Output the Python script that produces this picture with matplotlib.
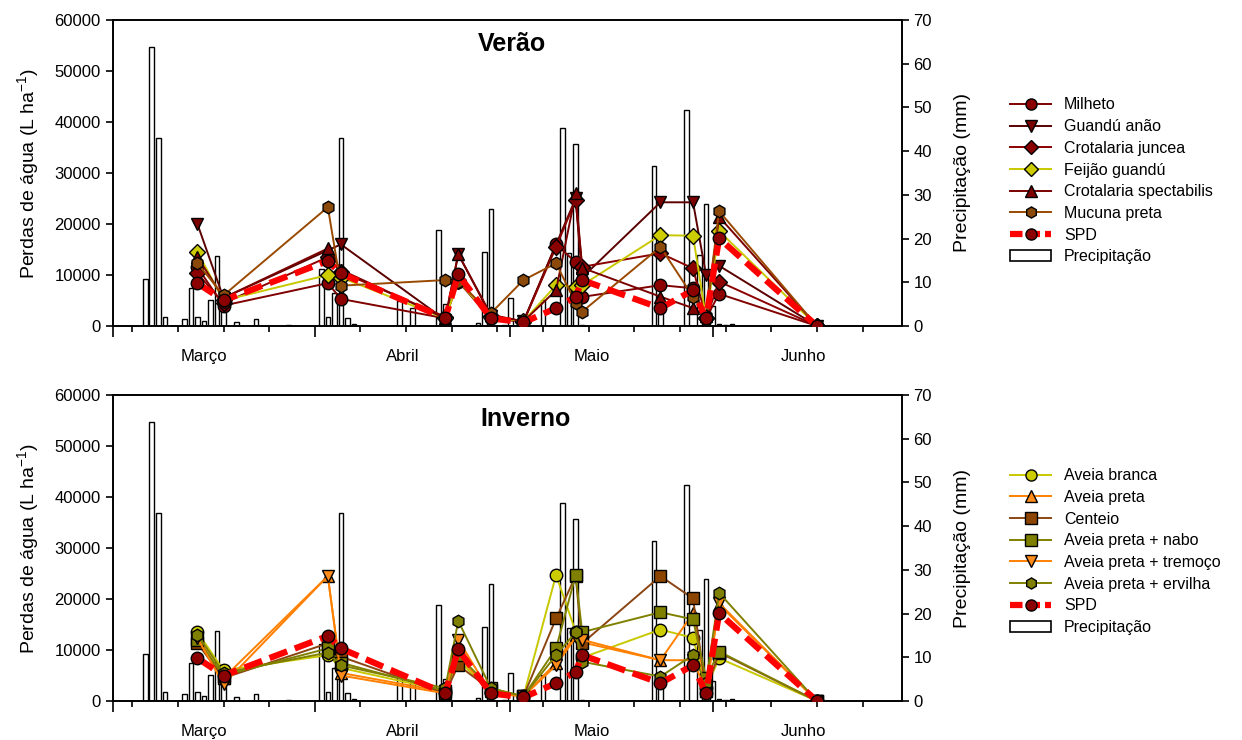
import numpy as np
import matplotlib.pyplot as plt
from matplotlib.lines import Line2D
from matplotlib.patches import Patch

plt.rcParams['font.family'] = ['Liberation Sans', 'DejaVu Sans']
plt.rcParams['mathtext.fontset'] = 'custom'
plt.rcParams['mathtext.rm'] = 'Liberation Sans'
plt.rcParams['axes.linewidth'] = 1.2

# days counted from 1 March
dates = [13, 17, 33, 35, 51, 53, 58, 63, 68, 71, 72, 84, 89, 91, 93, 108]
nan = np.nan

# Verao
milheto = [11500, 4000, 8400, 5300, 1500, 8700, 1500, 800, 16000, 12500, 5700, 8000, 7400, 1500, 6300, 0]
guandu_anao = [20000, 5500, nan, 16000, 1200, 14100, 2000, 900, nan, 25000, 9500, 24250, 24250, 10000, 11800, 0]
crot_juncea = [10300, 4500, 13500, 10600, 1800, 9000, 2000, 800, 15500, 24700, 11600, 14250, 11300, 1500, 8700, 0]
feijao_guandu = [14500, 5000, 10000, 9500, 1500, 8800, 1800, 900, 8000, 7700, 8000, 17800, 17700, 1500, 18600, 0]
crot_spect = [13500, 5500, 15200, 11000, 1500, 14100, 2200, 900, 7000, 26000, 11400, 5750, 3500, 2000, 21400, 0]
mucuna = [12300, 6000, 23300, 7900, 9000, 8700, 2500, 9000, 12300, 4500, 2800, 15500, 5750, 2000, 22500, 0]
spd = [8400, 5000, 12750, 10300, 1500, 10100, 1500, 700, 3500, 5750, 9000, 3500, 7000, 1500, 17200, 0]

# Inverno
aveia_branca = [13500, 6000, 9000, 6500, 2000, 8000, 1800, 900, 24700, 13600, 8500, 14000, 12400, 2500, 8400, 0]
aveia_preta = [12600, 4500, 24500, 5500, 1800, 8700, 2000, 900, 7500, 13000, 11500, 8000, 17200, 2000, 18900, 0]
centeio = [11300, 4500, 11300, 8700, 1500, 7000, 2200, 900, 16200, 24500, 11300, 24500, 20100, 2000, 9500, 0]
nabo = [12000, 5000, 10300, 7500, 2000, 9000, 2500, 900, 10300, 24700, 13500, 17400, 16000, 4500, 9700, 0]
tremoco = [12300, 3300, 24500, 5000, 1500, 12000, 1500, 900, 7000, 12500, 12000, 8000, 8000, 2000, 19200, 0]
ervilha = [13000, 5500, 9500, 7000, 2500, 15700, 2500, 900, 9000, 13500, 7700, 4800, 9000, 3500, 21200, 0]

# precipitation (mm)
precip_days = [5, 6, 7, 8, 11, 12, 13, 14, 15, 16, 17, 19, 22, 27, 32, 33, 34, 35, 36, 37, 44, 46,
               47, 50, 51, 56, 57, 58, 60, 61, 66, 69, 70, 71, 72, 83, 84, 88, 90, 91, 92, 93, 94, 95]
precip_mm = [10.8, 63.9, 42.9, 2.1, 1.6, 8.8, 2.1, 1.2, 6, 16, 5, 1.0, 1.6, 0.2, 13, 2.1, 7.5, 43.1,
             1.8, 0.4, 5.6, 4.1, 0.1, 22, 5, 0.7, 17, 26.7, 0.3, 6.4, 6, 45.2, 16.7, 41.6, 0.3, 36.5,
             5, 49.4, 16.2, 27.8, 4.5, 0.5, 0.3, 0.5]

months = ['Março', 'Abril', 'Maio', 'Junho']
month_pos = [14, 44.5, 73.5, 106]
month_start = [0, 31, 61, 92]

summer = [
    ('Milheto', milheto, '#800000', 'o', '#8B0000'),
    ('Guandú anão', guandu_anao, '#5A0000', 'v', '#7A0000'),
    ('Crotalaria juncea', crot_juncea, '#8B0000', 'D', '#8B0000'),
    ('Feijão guandú', feijao_guandu, '#C8C800', 'D', '#CCCC00'),
    ('Crotalaria spectabilis', crot_spect, '#7A0000', '^', '#800000'),
    ('Mucuna preta', mucuna, '#9A4A00', 'h', '#8B4A0A'),
]
winter = [
    ('Aveia branca', aveia_branca, '#C8C800', 'o', '#CCCC00'),
    ('Aveia preta', aveia_preta, '#FF8000', '^', '#FF8C1A'),
    ('Centeio', centeio, '#8B4513', 's', '#8B4500'),
    ('Aveia preta + nabo', nabo, '#808000', 's', '#808000'),
    ('Aveia preta + tremoço', tremoco, '#FF8000', 'v', '#FF8C1A'),
    ('Aveia preta + ervilha', ervilha, '#808000', 'h', '#808000'),
]

fig = plt.figure(figsize=(12.42, 7.40), dpi=100)


def panel(rect, series, title, title_x, legend_top):
    ax = fig.add_axes(rect)
    ax2 = ax.twinx()
    ax.set_zorder(ax2.get_zorder() + 1)
    ax.patch.set_visible(False)

    ax2.bar(precip_days, precip_mm, width=0.7, color='white', edgecolor='black', linewidth=1.0)
    ax2.set_ylim(0, 70)
    ax2.set_yticks(range(0, 71, 10))

    x = np.array(dates)
    handles = []
    for name, vals, lc, mk, fc in series:
        v = np.array(vals, dtype=float)
        m = ~np.isnan(v)
        ax.plot(x[m], v[m], color=lc, lw=1.4, marker=mk, markersize=9 if mk != 'D' else 8,
                markerfacecolor=fc, markeredgecolor='black', markeredgewidth=1.0)
        handles.append(Line2D([], [], color=lc, lw=1.4, marker=mk, markersize=8 if mk != 'D' else 7,
                              markerfacecolor=fc, markeredgecolor='black', markeredgewidth=1.0))
    ax.plot(x, spd, color='#FF0000', lw=4.5, linestyle=(0, (3, 1.3)), marker='o', markersize=9,
            markerfacecolor='#8B0000', markeredgecolor='black', markeredgewidth=1.0, zorder=3)
    handles.append(Line2D([], [], color='#FF0000', lw=4.5, linestyle=(0, (2, 0.8)), marker='o',
                          markersize=8, markerfacecolor='#8B0000', markeredgecolor='black'))
    handles.append(Patch(facecolor='white', edgecolor='black', linewidth=1.2))
    labels = [s[0] for s in series] + ['SPD', 'Precipitação']

    ax.set_xlim(0, 121)
    ax.set_ylim(0, 60000)
    ax.set_yticks(range(0, 60001, 10000))
    ax.set_xticks(month_start)
    ax.set_xticks(range(3, 121, 7), minor=True)
    ax.tick_params(axis='x', which='major', length=8, width=1.2, labelbottom=False, direction='out')
    ax.tick_params(axis='x', which='minor', length=4.5, width=1.2, direction='out')
    ax.tick_params(axis='y', length=5, width=1.2, labelsize=12, direction='out')
    ax2.tick_params(axis='y', length=5, width=1.2, labelsize=12, direction='out')
    for p, mth in zip(month_pos, months):
        ax.text(p, -0.1, mth, transform=ax.get_xaxis_transform(), ha='center', va='center', fontsize=12)

    ax.set_ylabel('Perdas de água (L ha$^{-1}$)', fontsize=14, labelpad=9)
    ax2.set_ylabel('Precipitação (mm)', fontsize=14, labelpad=16)
    ax.text(title_x, 0.92, title, transform=ax.transAxes, ha='center', va='center',
            fontsize=18, fontweight='bold')

    ax.legend(handles, labels, loc='upper left', bbox_to_anchor=(0.808, legend_top),
              bbox_transform=fig.transFigure, frameon=False, fontsize=11.5,
              handlelength=2.6, handletextpad=0.8, labelspacing=0.42, borderaxespad=0)
    return ax


panel([0.0907, 0.5595, 0.6353, 0.4135], summer, 'Verão', 0.506, 0.877)
panel([0.0907, 0.0527, 0.6353, 0.4135], winter, 'Inverno', 0.523, 0.376)

fig.savefig('out.png', dpi=100)
